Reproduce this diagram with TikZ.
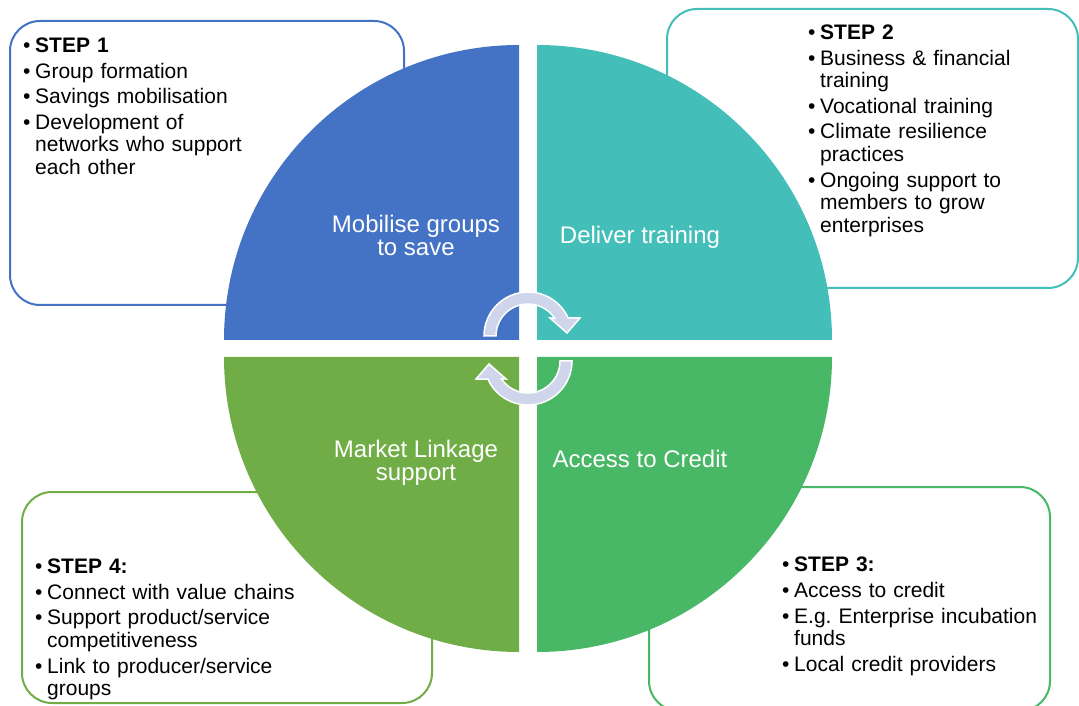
\documentclass[tikz,border=0pt]{standalone}
\usepackage{fontspec}
\setmainfont{Liberation Sans}
\definecolor{qblue}{HTML}{4472C4}
\definecolor{qteal}{HTML}{44BEB9}
\definecolor{qgreen}{HTML}{48B766}
\definecolor{qolive}{HTML}{70AD47}
\definecolor{arrowfill}{HTML}{CFD5EA}
% one bullet line, wrapped lines hang under the text
\newcommand{\bitem}{\par\noindent\hangindent=12pt\hangafter=1\makebox[12pt][l]{\textbullet}}

\begin{document}
\begin{tikzpicture}[x=1pt,y=1pt,
  stepbox/.style={draw=#1,line width=2pt,rounded corners=30pt,fill=white},
  steptext/.style={anchor=north west,inner sep=0pt,text width=330pt,align=left,
    font=\fontsize{21}{22.5}\selectfont\frenchspacing\setlength{\parskip}{3.2pt}},
  quadlabel/.style={text=white,inner sep=0pt,align=center,font=\fontsize{24}{23}\selectfont},
  cyclearrow/.pic={\draw[fill=arrowfill,draw=white,line width=1.5pt]
    (180:44) arc (180:24.2:44) -- (52,18) -- (39,3) -- (22,18) -- (34.2:32) arc (34.2:180:32) -- cycle;}]
\useasboundingbox (0,0) rectangle (1079,705);

% step boxes, behind the circle
\draw[stepbox=qblue] (10,400) rectangle (404,684);
\draw[stepbox=qteal] (667,417) rectangle (1078,696);
\draw[stepbox=qgreen] (649,-6) rectangle (1050,218);
\draw[stepbox=qolive] (22,2) rectangle (432,213);

% the four quarters
\foreach \cx/\cy/\s/\col in {519/365/180/qblue,537/365/90/qteal,537/348/0/qgreen,519/348/270/qolive}
  \fill[\col] (\cx,\cy) -- ++(\s:295) arc (\s:\s-90:295) -- cycle;

\node[quadlabel,anchor=north] (mobilise) at (416,490.3) {Mobilise groups\\to save};
\node[quadlabel,anchor=base] (deliver) at (640,461) {Deliver training};
\node[quadlabel,anchor=north] (market) at (416,265.3) {Market Linkage\\support};
\node[quadlabel,anchor=base] (credit) at (640,237) {Access to Credit};

\pic (cycletop) at (528,369) {cyclearrow};
\pic[rotate=180] (cyclebottom) at (528,344) {cyclearrow};

\node[steptext] (step1) at (23,678.5) {%
  \bitem\textbf{STEP 1}
  \bitem Group formation
  \bitem Savings mobilisation
  \bitem Development of\newline networks who support\newline each other\par};
\node[steptext] (step2) at (808,691.5) {%
  \bitem\textbf{STEP 2}
  \bitem Business \& financial\newline training
  \bitem Vocational training
  \bitem Climate resilience\newline practices
  \bitem Ongoing support to\newline members to grow\newline enterprises\par};
\node[steptext] (step3) at (782,159) {%
  \bitem\textbf{STEP 3:}
  \bitem Access to credit
  \bitem E.g. Enterprise incubation\newline funds
  \bitem Local credit providers\par};
\node[steptext] (step4) at (35,157.5) {%
  \bitem\textbf{STEP 4:}
  \bitem Connect with value chains
  \bitem Support product/service\newline competitiveness
  \bitem Link to producer/service\newline groups\par};
\end{tikzpicture}
\end{document}
